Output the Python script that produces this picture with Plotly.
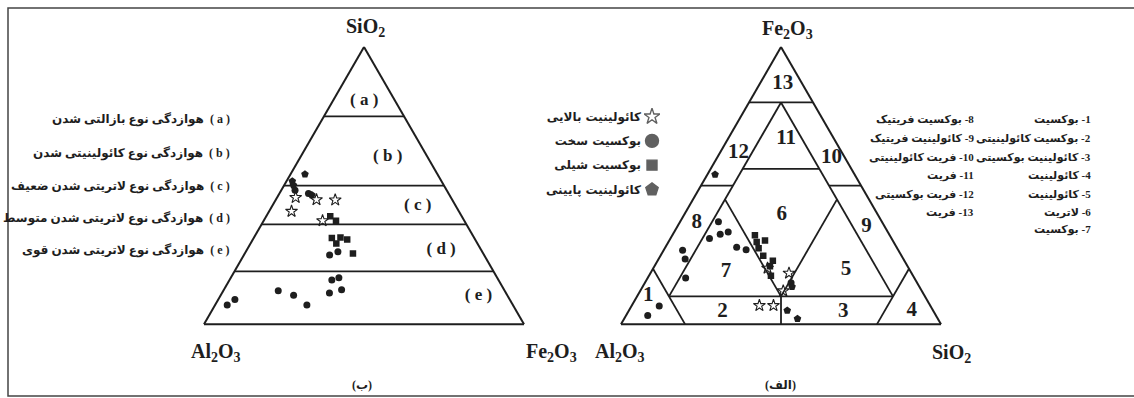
import math
import plotly.graph_objects as go

W, H = 1134, 398
INK = "#1e1e1e"
RLE, PDF = "\u202b", "\u202c"   # right-to-left embedding for the Persian labels

# ---------------- diagram (ب): SiO2 (top) / Al2O3 (left) / Fe2O3 (right) ----------------
b_zone_limits = [75, 50, 36, 19]          # SiO2 % of the zone boundaries
b_zone_names = ["( a )", "( b )", "( c )", "( d )", "( e )"]
b_zone_sio2 = [80.7, 60.4, 42.8, 27.0, 10.2]
b_zone_al2o3 = [9.6, 12.4, 11.8, 12.4, 9.1]
b_zone_fe2o3 = [9.7, 27.2, 45.4, 60.6, 80.7]

b_star_sio2 = [45.7, 44.9, 44.8, 40.7, 37.3]
b_star_al2o3 = [48.5, 42.4, 36.6, 52.3, 44.3]
b_star_fe2o3 = [5.8, 12.7, 18.6, 7.0, 18.4]

b_circle_sio2 = [48.3, 47.1, 24.9, 26.1, 15.9, 16.7, 11.2, 12.4, 12.0, 10.4, 6.9, 6.9, 8.9]
b_circle_al2o3 = [47.4, 43.8, 48.3, 45.1, 52.1, 49.5, 55.2, 50.8, 70.8, 66.8, 64.4, 89.3, 85.9]
b_circle_fe2o3 = [4.3, 9.1, 26.8, 28.8, 32.0, 33.8, 33.6, 36.8, 17.2, 22.8, 28.7, 3.8, 5.2]

b_square_sio2 = [38.9, 37.3, 31.1, 31.3, 30.5, 29.1, 25.5]
b_square_al2o3 = [41.1, 40.1, 44.5, 41.7, 40.0, 44.1, 40.7]
b_square_fe2o3 = [20.0, 22.6, 24.4, 27.0, 29.5, 26.8, 33.8]

b_penta_sio2 = [54.1, 51.6, 50.1, 46.6]
b_penta_al2o3 = [41.4, 46.6, 47.0, 43.0]
b_penta_fe2o3 = [4.5, 1.8, 2.9, 10.4]

b_desc = [
    "( a )  هوازدگی نوع بازالتی شدن",
    "( b )  هوازدگی نوع کائولینیتی شدن",
    "( c )  هوازدگی نوع لاتریتی شدن ضعیف",
    "( d )  هوازدگی نوع لاتریتی شدن متوسط",
    "( e )  هوازدگی نوع لاتریتی شدن قوی",
]

# ---------------- diagram (الف): Fe2O3 (top) / Al2O3 (left) / SiO2 (right) ----------------
# field boundaries, start -> end
alef_seg_fe = [[80, 80], [20, 0], [20, 0], [10, 10], [0, 10], [10, 80], [10, 80],
               [50, 50], [50, 50], [56, 56], [45, 10], [45, 10]]
alef_seg_al = [[20, 0], [80, 80], [0, 20], [80, 10], [50, 45], [80, 10], [10, 10],
               [50, 40], [0, 10], [34, 10], [45, 45], [10, 45]]
alef_seg_si = [[0, 20], [0, 20], [80, 80], [10, 80], [50, 45], [10, 10], [80, 10],
               [0, 10], [50, 40], [10, 34], [10, 45], [45, 45]]

alef_field_no = ["13", "11", "12", "10", "6", "8", "9", "7", "5", "1", "2", "3", "4"]
alef_field_fe = [86.9, 66.8, 62.0, 60.2, 39.5, 36.5, 35.3, 18.8, 19.7, 10.4, 4.5, 4.5, 4.7]
alef_field_al = [6.0, 15.0, 32.3, 4.1, 30.0, 58.1, 5.6, 57.8, 19.8, 86.3, 66.0, 28.3, 6.8]
alef_field_si = [7.1, 18.2, 5.7, 35.7, 30.5, 5.4, 59.1, 23.4, 60.5, 3.3, 29.5, 67.2, 88.5]

alef_star_fe = [20.2, 18.4, 12.0, 6.7, 6.7]
alef_star_al = [44.1, 38.3, 43.3, 53.4, 49.0]
alef_star_si = [35.7, 43.3, 44.7, 39.9, 44.3]

alef_circle_fe = [36.9, 30.9, 32.4, 33.2, 27.7, 26.8, 26.7, 23.5, 16.6, 6.5, 3.1, 14.9]
alef_circle_al = [51.1, 56.9, 52.8, 49.9, 50.0, 47.5, 67.4, 68.2, 71.5, 84.8, 90.1, 39.4]
alef_circle_si = [12.0, 12.2, 14.8, 16.9, 22.3, 25.7, 5.9, 8.3, 11.9, 8.7, 6.8, 45.7]

alef_square_fe = [32.1, 29.6, 30.2, 27.4, 24.7, 22.9, 20.9, 17.5]
alef_square_al = [42.1, 42.8, 39.9, 43.3, 43.2, 41.1, 43.0, 44.4]
alef_square_si = [25.8, 27.6, 29.9, 29.3, 32.1, 36.0, 36.1, 38.1]

alef_penta_fe = [13.5, 4.9, 1.9, 54.0]
alef_penta_al = [39.8, 45.6, 43.9, 43.6]
alef_penta_si = [46.7, 49.5, 54.2, 2.4]

alef_list_right = ["1- بوکسیت", "2- بوکسیت کائولینیتی", "3- کائولینیت بوکسیتی", "4- کائولینیت",
                   "5- کائولینیت", "6- لاتریت", "7- بوکسیت"]
alef_list_mid = ["8- بوکسیت فریتیک", "9- کائولینیت فریتیک", "10- فریت کائولینیتی", "11- فریت",
                 "12- فریت بوکسیتی", "13- فریت"]

# ---------------- legend ----------------
legend_labels = ["کائولینیت بالایی", "بوکسیت سخت", "بوکسیت شیلی", "کائولینیت پایینی"]
legend_symbols = ["star-open", "circle", "square", "pentagon"]


def px(x):
    return x / W


def py(y):
    return 1 - y / H


mark_style = {
    "star": dict(symbol="star-open", size=9, color=INK, line=dict(width=1.1, color=INK)),
    "circle": dict(symbol="circle", size=7, color=INK),
    "square": dict(symbol="square", size=6.5, color=INK),
    "penta": dict(symbol="pentagon", size=8, color=INK),
}

fig = go.Figure()

# ---- diagram (ب)
for v in b_zone_limits:
    fig.add_trace(go.Scatterternary(a=[v, v], b=[100 - v, 0], c=[0, 100 - v], mode="lines",
                                    line=dict(color=INK, width=1.8), subplot="ternary",
                                    hoverinfo="skip", showlegend=False))
fig.add_trace(go.Scatterternary(a=b_zone_sio2, b=b_zone_al2o3, c=b_zone_fe2o3, mode="text",
                                text=b_zone_names, subplot="ternary", showlegend=False,
                                textfont=dict(family="Liberation Serif", size=17, color=INK,
                                              weight="bold")))
b_groups = [
    ("star", b_star_sio2, b_star_al2o3, b_star_fe2o3),
    ("circle", b_circle_sio2, b_circle_al2o3, b_circle_fe2o3),
    ("square", b_square_sio2, b_square_al2o3, b_square_fe2o3),
    ("penta", b_penta_sio2, b_penta_al2o3, b_penta_fe2o3),
]
for kind, a, b, c in b_groups:
    fig.add_trace(go.Scatterternary(a=a, b=b, c=c, mode="markers", marker=mark_style[kind],
                                    subplot="ternary", showlegend=False))

# ---- diagram (الف)
for fe, al, si in zip(alef_seg_fe, alef_seg_al, alef_seg_si):
    fig.add_trace(go.Scatterternary(a=fe, b=al, c=si, mode="lines",
                                    line=dict(color=INK, width=1.8), subplot="ternary2",
                                    hoverinfo="skip", showlegend=False))
fig.add_trace(go.Scatterternary(a=alef_field_fe, b=alef_field_al, c=alef_field_si, mode="text",
                                text=alef_field_no, subplot="ternary2", showlegend=False,
                                textfont=dict(family="Liberation Serif", size=21, color=INK,
                                              weight="bold")))
alef_groups = [
    ("star", alef_star_fe, alef_star_al, alef_star_si),
    ("circle", alef_circle_fe, alef_circle_al, alef_circle_si),
    ("square", alef_square_fe, alef_square_al, alef_square_si),
    ("penta", alef_penta_fe, alef_penta_al, alef_penta_si),
]
for kind, a, b, c in alef_groups:
    fig.add_trace(go.Scatterternary(a=a, b=b, c=c, mode="markers", marker=mark_style[kind],
                                    subplot="ternary2", showlegend=False))

# ---- legend, drawn as a small category axis so the labels sit left of the symbols
fig.add_trace(go.Scatter(x=[0] * len(legend_labels), y=legend_labels, mode="markers",
                         marker=dict(symbol=legend_symbols, size=[12, 13, 10, 13], color=INK,
                                     line=dict(width=1.4, color=INK)),
                         xaxis="x", yaxis="y", showlegend=False))

tri_w = 320
tri_h = tri_w * math.sqrt(3) / 2
tri_top = 47


def tern(x0):
    ax = dict(title=dict(text=""), showticklabels=False, ticks="", showgrid=False,
              showline=True, linecolor=INK, linewidth=2, min=0)
    return dict(domain=dict(x=[px(x0), px(x0 + tri_w)], y=[py(tri_top + tri_h), py(tri_top)]),
                sum=100, bgcolor="rgba(0,0,0,0)", aaxis=ax, baxis=ax, caxis=ax)


serif = dict(family="Liberation Serif", size=20, color=INK, weight="bold")
persian = dict(family="Liberation Serif, DejaVu Sans", size=12, color=INK, weight="bold")
persian_list = dict(persian, size=11)

ann = [
    dict(x=px(365), y=py(27), text="SiO<sub>2</sub>", font=serif, xanchor="center"),
    dict(x=px(216), y=py(352), text="Al<sub>2</sub>O<sub>3</sub>", font=serif, xanchor="center"),
    dict(x=px(551), y=py(352), text="Fe<sub>2</sub>O<sub>3</sub>", font=serif, xanchor="center"),
    dict(x=px(787), y=py(30), text="Fe<sub>2</sub>O<sub>3</sub>", font=serif, xanchor="center"),
    dict(x=px(620), y=py(352), text="Al<sub>2</sub>O<sub>3</sub>", font=serif, xanchor="center"),
    dict(x=px(951), y=py(353), text="SiO<sub>2</sub>", font=serif, xanchor="center"),
    dict(x=px(362), y=py(385), text=RLE + "(ب)" + PDF, font=persian, xanchor="center"),
    dict(x=px(780), y=py(385), text=RLE + "(الف)" + PDF, font=persian, xanchor="center"),
]
for i, t in enumerate(b_desc):
    ann.append(dict(x=px(232), y=py([120, 153.5, 186, 218, 250][i]), text=RLE + t + PDF,
                    font=persian, xanchor="right"))
rows = [120, 138.5, 157, 175.5, 194, 212, 230]
for i, t in enumerate(alef_list_right):
    ann.append(dict(x=px(1093), y=py(rows[i]), text=RLE + t + PDF, font=persian_list,
                    xanchor="right"))
for i, t in enumerate(alef_list_mid):
    ann.append(dict(x=px(976), y=py(rows[i]), text=RLE + t + PDF, font=persian_list,
                    xanchor="right"))
for a in ann:
    a.update(xref="paper", yref="paper", showarrow=False, yanchor="middle")

leg_row = 24.3
fig.update_layout(
    width=W, height=H, margin=dict(l=0, r=0, t=0, b=0),
    paper_bgcolor="white", plot_bgcolor="rgba(0,0,0,0)",
    font=dict(family="DejaVu Sans", color=INK),
    ternary=tern(204), ternary2=tern(621),
    xaxis=dict(domain=[px(644), px(660)], range=[-1, 1], visible=False),
    yaxis=dict(domain=[py(153 + 2 * leg_row), py(153 - 2 * leg_row)], type="category",
               range=[3.5, -0.5], showgrid=False, zeroline=False, showline=False, ticks="",
               tickfont=dict(family="DejaVu Sans", size=12, color=INK, weight="bold"),
               ticklabelstandoff=2),
    annotations=ann,
    shapes=[dict(type="rect", xref="paper", yref="paper", x0=px(8), x1=px(1140),
                 y0=py(396), y1=py(8), line=dict(color="#444", width=1.5))],
)

# the page body has a default 8px margin; drop it so the figure sits at the window origin
fig.write_html("out.html", config={"displayModeBar": False},
               post_script="document.body.style.margin='0';"
                           "document.body.style.overflow='hidden';")
